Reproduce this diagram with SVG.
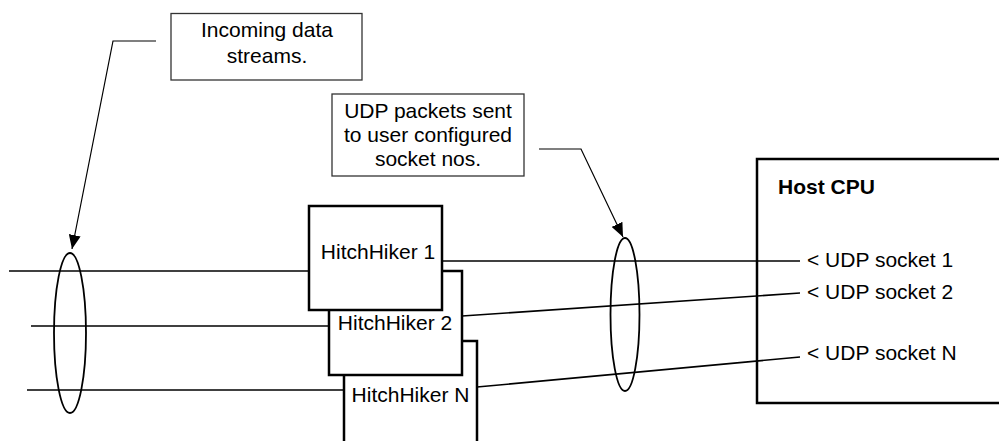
<svg xmlns="http://www.w3.org/2000/svg" width="999" height="441" viewBox="0 0 999 441">
<style>
text{font-family:"Liberation Sans",Arial,sans-serif;font-size:21px;fill:#000}
.note{fill:#fff;stroke:#333;stroke-width:1.3}
.node{fill:#fff;stroke:#000;stroke-width:2.5}
.frame{fill:none;stroke:#000;stroke-width:2.5}
.line{fill:none;stroke:#000;stroke-width:1.6}
.ell{fill:none;stroke:#000;stroke-width:1.8}
.call{fill:none;stroke:#000;stroke-width:1.2}
</style>
<defs>
<marker id="ah" viewBox="0 0 14 12" refX="14" refY="6" markerWidth="14" markerHeight="12" markerUnits="userSpaceOnUse" orient="auto">
<path d="M0,0 L14,6 L0,12 z" fill="#000"/>
</marker>
</defs>
<rect width="999" height="441" fill="#fff"/>
<g id="host-cpu">
<path class="frame" d="M1002,159 L757,159 L757,403 L1002,403"/>
<text x="778" y="194" font-weight="bold">Host CPU</text>
<text x="807" y="267">&lt; UDP socket 1</text>
<text x="807" y="299">&lt; UDP socket 2</text>
<text x="807" y="360">&lt; UDP socket N</text>
</g>
<g id="connectors">
<line class="line" x1="9" y1="271" x2="309" y2="271"/>
<line class="line" x1="31" y1="326" x2="329" y2="326"/>
<line class="line" x1="27" y1="390" x2="344" y2="390"/>
<line class="line" x1="442" y1="261" x2="800" y2="261"/>
<line class="line" x1="462" y1="316" x2="800" y2="293"/>
<line class="line" x1="477" y1="387" x2="800" y2="357"/>
<ellipse class="ell" cx="70" cy="333" rx="16" ry="80"/>
<ellipse class="ell" cx="625" cy="314.5" rx="14.5" ry="76.5"/>
<polyline class="call" points="156,41 113,41 72,249" marker-end="url(#ah)"/>
<polyline class="call" points="539,149 581,149 623,237" marker-end="url(#ah)"/>
</g>
<g id="note-incoming">
<rect class="note" x="171" y="13.5" width="191" height="66.5"/>
<text x="267" y="37" text-anchor="middle">Incoming data</text>
<text x="267" y="63" text-anchor="middle">streams.</text>
</g>
<g id="note-udp">
<rect class="note" x="332" y="94" width="192" height="82"/>
<text x="428" y="118" text-anchor="middle">UDP packets sent</text>
<text x="428" y="142" text-anchor="middle">to user configured</text>
<text x="428" y="166" text-anchor="middle">socket nos.</text>
</g>
<g id="hh-n">
<path class="node" d="M344,445 L344,341 L477,341 L477,445"/>
<text x="410.5" y="402" text-anchor="middle">HitchHiker N</text>
</g>
<g id="hh-2">
<rect class="node" x="329" y="271" width="133" height="104"/>
<text x="395" y="330" text-anchor="middle">HitchHiker 2</text>
</g>
<g id="hh-1">
<rect class="node" x="309" y="206" width="133" height="104"/>
<text x="378" y="259" text-anchor="middle">HitchHiker 1</text>
</g>
</svg>
